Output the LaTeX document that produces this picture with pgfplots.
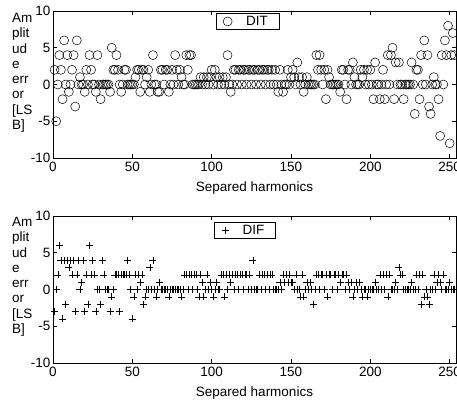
\documentclass[border=0pt]{standalone}
\usepackage{pgfplots}
\pgfplotsset{compat=1.18}
\usepackage{fontspec}
\setmainfont{Liberation Sans}

\newcommand{\lblfont}{\fontsize{13.5}{15.3}\selectfont}

\pgfplotsset{
  harm/.style={
    scale only axis,
    width=403pt, height=147pt,
    xmin=0, xmax=254, ymin=-10, ymax=10,
    xtick={0,50,100,150,200,250},
    ytick={-10,-5,0,5,10},
    tick align=inside,
    major tick length=4pt,
    axis line style={line width=0.8pt},
    every tick/.style={black, line width=0.6pt},
    tick label style={font=\lblfont},
    xticklabel style={yshift=-1pt},
    yticklabel style={xshift=1pt},
    /pgf/number format/assume math mode=true,
    xlabel={Separed harmonics},
    xlabel style={font=\lblfont, at={(axis description cs:0.5,0)},
      anchor=north, yshift=-20pt},
    legend cell align=left,
    legend style={draw=black, line width=0.7pt, font=\lblfont,
      anchor=north west, inner xsep=7pt, inner ysep=0.5pt,
      nodes={inner xsep=4pt}},
  }
}

\begin{document}
\begin{tikzpicture}[x=1pt,y=1pt]
\useasboundingbox (0,0) rectangle (457,401);

% upper panel
\begin{axis}[harm, at={(53pt,243pt)}, anchor=south west,
  legend style={at={(0.404,0.985)}}]
\addplot[only marks, mark=o, mark size=4.5pt, mark options={line width=0.5pt}] coordinates {
(1,2)(2,-5)(3,0)(4,4)(5,2)(6,-2)(7,6)(8,0)(9,4)(10,-1)
(11,0)(12,2)(13,4)(14,-3)(15,6)(16,0)(17,1)(18,0)(19,0)(20,-1)
(21,2)(22,0)(23,4)(24,2)(25,0)(26,0)(27,-1)(28,4)(29,0)(30,-2)
(31,0)(32,0)(33,0)(34,0)(35,0)(36,-1)(37,5)(38,2)(39,2)(40,4)
(41,2)(42,0)(43,-1)(44,0)(45,2)(46,2)(47,0)(48,0)(49,0)(50,0)
(51,0)(52,1)(53,2)(54,2)(55,-1)(56,2)(57,2)(58,0)(59,1)(60,2)
(61,-1)(62,0)(63,4)(64,0)(65,0)(66,-1)(67,-1)(68,2)(69,2)(70,0)
(71,2)(72,2)(73,-1)(74,0)(75,2)(76,0)(77,4)(78,2)(79,0)(80,2)
(81,1)(82,0)(83,0)(84,4)(85,2)(86,4)(87,4)(88,0)(89,0)(90,0)
(91,0)(92,0)(93,1)(94,0)(95,1)(96,0)(97,1)(98,0)(99,1)(100,2)
(101,0)(102,2)(103,1)(104,0)(105,1)(106,0)(107,1)(108,0)(109,1)(110,4)
(111,0)(112,-1)(113,0)(114,2)(115,2)(116,0)(117,2)(118,2)(119,0)(120,2)
(121,2)(122,0)(123,2)(124,2)(125,0)(126,2)(127,2)(128,0)(129,2)(130,2)
(131,0)(132,2)(133,2)(134,0)(135,2)(136,2)(137,0)(138,2)(139,0)(140,2)
(141,0)(142,-1)(143,2)(144,0)(145,-1)(146,0)(147,0)(148,2)(149,0)(150,1)
(151,2)(152,1)(153,0)(154,3)(155,1)(156,0)(157,1)(158,-1)(159,0)(160,1)
(161,0)(162,0)(163,0)(164,0)(165,0)(166,4)(167,2)(168,4)(169,2)(170,0)
(171,2)(172,-2)(173,2)(174,1)(175,0)(176,0)(177,0)(178,0)(179,0)(180,0)
(181,-1)(182,2)(183,2)(184,0)(185,-2)(186,2)(187,2)(188,0)(189,3)(190,1)
(191,0)(192,0)(193,0)(194,2)(195,1)(196,2)(197,0)(198,2)(199,0)(200,2)
(201,0)(202,-2)(203,3)(204,0)(205,0)(206,-2)(207,0)(208,2)(209,-2)(210,0)
(211,4)(212,0)(213,4)(214,5)(215,-2)(216,3)(217,0)(218,3)(219,0)(220,0)
(221,-2)(222,0)(223,0)(224,0)(225,0)(226,3)(227,0)(228,-4)(229,2)(230,2)
(231,-2)(232,4)(233,0)(234,6)(235,0)(236,4)(237,-3)(238,-4)(239,0)(240,1)
(241,0)(242,0)(243,-2)(244,-7)(245,4)(246,0)(247,6)(248,4)(249,8)(250,-8)
(251,4)(252,7)(253,4)
};
\addlegendentry{\hspace{10pt}DIT\hspace{2pt}}
\end{axis}

% lower panel
\begin{axis}[harm, at={(53pt,38pt)}, anchor=south west,
  legend style={at={(0.40,0.96)}}]
\addplot[only marks, mark=+, mark size=3.5pt, mark options={line width=0.5pt}] coordinates {
(1,-3)(2,0)(3,2)(4,6)(5,4)(6,-4)(7,4)(8,-2)(9,4)(10,3)
(11,4)(12,2)(13,4)(14,-3)(15,2)(16,4)(17,0)(18,1)(19,4)(20,-3)
(21,2)(22,-2)(23,6)(24,2)(25,4)(26,2)(27,-3)(28,0)(29,0)(30,-2)
(31,4)(32,2)(33,0)(34,0)(35,0)(36,-3)(37,-1)(38,0)(39,2)(40,2)
(41,2)(42,-3)(43,2)(44,2)(45,2)(46,2)(47,4)(48,2)(49,0)(50,-4)
(51,-1)(52,2)(53,0)(54,2)(55,1)(56,2)(57,-2)(58,-1)(59,0)(60,0)
(61,3)(62,0)(63,4)(64,0)(65,-1)(66,0)(67,1)(68,0)(69,0)(70,0)
(71,0)(72,0)(73,-1)(74,0)(75,0)(76,0)(77,0)(78,0)(79,0)(80,0)
(81,-1)(82,0)(83,2)(84,2)(85,0)(86,2)(87,2)(88,0)(89,2)(90,2)
(91,0)(92,-1)(93,2)(94,1)(95,-1)(96,0)(97,2)(98,0)(99,1)(100,0)
(101,-1)(102,0)(103,1)(104,0)(105,0)(106,2)(107,2)(108,-1)(109,2)(110,0)
(111,2)(112,1)(113,2)(114,0)(115,2)(116,2)(117,0)(118,2)(119,2)(120,0)
(121,2)(122,2)(123,0)(124,2)(125,0)(126,4)(127,0)(128,0)(129,0)(130,2)
(131,0)(132,2)(133,2)(134,0)(135,2)(136,0)(137,2)(138,2)(139,0)(140,0)
(141,0)(142,0)(143,1)(144,0)(145,2)(146,1)(147,2)(148,1)(149,2)(150,1)
(151,1)(152,0)(153,2)(154,0)(155,0)(156,-1)(157,2)(158,-1)(159,0)(160,1)
(161,0)(162,1)(163,0)(164,-2)(165,0)(166,2)(167,2)(168,0)(169,2)(170,2)
(171,0)(172,2)(173,-1)(174,2)(175,2)(176,0)(177,2)(178,2)(179,0)(180,2)
(181,1)(182,2)(183,2)(184,0)(185,2)(186,1)(187,0)(188,1)(189,-1)(190,0)
(191,1)(192,0)(193,1)(194,0)(195,-1)(196,0)(197,0)(198,-1)(199,0)(200,0)
(201,0)(202,0)(203,1)(204,0)(205,0)(206,2)(207,0)(208,2)(209,0)(210,2)
(211,-1)(212,2)(213,0)(214,0)(215,0)(216,1)(217,0)(218,3)(219,2)(220,2)
(221,0)(222,0)(223,0)(224,0)(225,0)(226,1)(227,0)(228,0)(229,2)(230,0)
(231,2)(232,-2)(233,2)(234,-1)(235,0)(236,-1)(237,-2)(238,0)(239,0)(240,2)
(241,0)(242,1)(243,2)(244,1)(245,0)(246,2)(247,0)(248,0)(249,0)(250,1)
(251,0)(252,0)(253,0)
};
\addlegendentry{\hspace{10pt}DIF\hspace{2pt}}
\end{axis}

% wrapped y labels
\node[anchor=north west, align=left, inner sep=0pt, font=\lblfont] at (12,388)
  {Am\\plit\\ud\\e\\err\\or\\{[LS}\\B]};
\node[anchor=north west, align=left, inner sep=0pt, font=\lblfont] at (12,184)
  {Am\\plit\\ud\\e\\err\\or\\{[LS}\\B]};
\end{tikzpicture}
\end{document}
